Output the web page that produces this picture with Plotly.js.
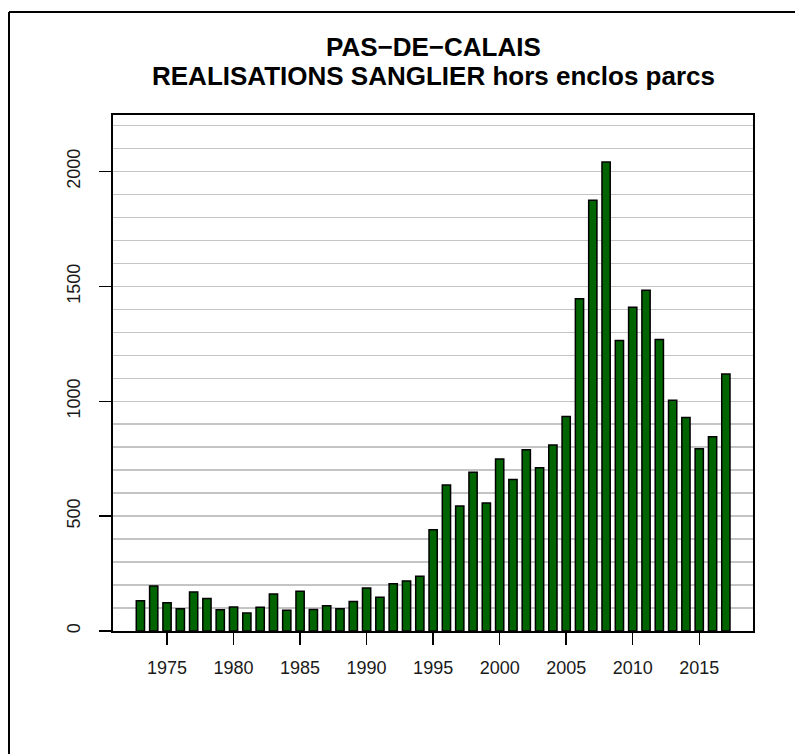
<!DOCTYPE html>
<html>
<head>
<meta charset="utf-8">
<script src="https://cdn.plot.ly/plotly-3.0.1.min.js"></script>
<style>
  html, body { margin: 0; padding: 0; background: #ffffff; }
  #chart { width: 795px; height: 754px; }
</style>
</head>
<body>
<div id="chart"></div>
<script>
// Data
const years = [1973, 1974, 1975, 1976, 1977, 1978, 1979, 1980, 1981, 1982,
               1983, 1984, 1985, 1986, 1987, 1988, 1989, 1990, 1991, 1992,
               1993, 1994, 1995, 1996, 1997, 1998, 1999, 2000, 2001, 2002,
               2003, 2004, 2005, 2006, 2007, 2008, 2009, 2010, 2011, 2012,
               2013, 2014, 2015, 2016, 2017];
const realisations = [132, 196, 123, 97, 170, 142, 93, 104, 78, 103,
                      161, 90, 173, 94, 110, 97, 128, 187, 147, 206,
                      218, 238, 441, 636, 544, 691, 557, 749, 659, 789,
                      711, 810, 934, 1446, 1875, 2041, 1265, 1409, 1483, 1269,
                      1004, 929, 793, 845, 1119];
const xTickVals = [1975, 1980, 1985, 1990, 1995, 2000, 2005, 2010, 2015];
const yTickVals = [0, 500, 1000, 1500, 2000];
const titleLines = ['PAS\u2212DE\u2212CALAIS', 'REALISATIONS SANGLIER hors enclos parcs'];

const trace = {
  type: 'bar',
  x: years,
  y: realisations,
  width: 0.62,
  marker: { color: '#006400', line: { color: '#000000', width: 1.5 } },
  hoverinfo: 'x+y'
};

const titleFont = { family: 'Liberation Sans, Arial, sans-serif', size: 26, color: '#000000', weight: 'bold' };

const layout = {
  width: 795,
  height: 754,
  margin: { l: 113, r: 42, t: 115, b: 123, pad: 0 },
  paper_bgcolor: '#ffffff',
  plot_bgcolor: '#ffffff',
  showlegend: false,
  font: { family: 'Liberation Sans, Arial, sans-serif', color: '#000000', size: 18 },
  xaxis: {
    range: [1970.94, 2019.04],
    tickmode: 'array',
    tickvals: xTickVals,
    ticktext: xTickVals.map(String),
    ticks: 'outside', ticklen: 12, tickwidth: 1.5, tickcolor: '#000000',
    ticklabelstandoff: 7,
    showgrid: false, zeroline: false,
    showline: true, linecolor: '#000000', linewidth: 2, mirror: true,
    tickfont: { size: 18, color: '#1a1a1a' },
    fixedrange: true
  },
  yaxis: {
    range: [0, 2246],
    tickmode: 'array',
    tickvals: yTickVals,
    ticktext: yTickVals.map(String),
    tickangle: -90,
    ticks: 'outside', ticklen: 12, tickwidth: 1.5, tickcolor: '#000000',
    ticklabelstandoff: 12,
    showgrid: true, gridcolor: '#c4c4c4', gridwidth: 1.5,
    minor: { dtick: 100, tick0: 0, showgrid: true, gridcolor: '#c4c4c4', gridwidth: 1.5, ticks: '' },
    zeroline: false,
    showline: true, linecolor: '#000000', linewidth: 2, mirror: true,
    tickfont: { size: 18, color: '#1a1a1a' },
    fixedrange: true
  },
  annotations: [
    { text: titleLines[0], xref: 'paper', yref: 'paper', x: 0.5, y: (631 - 47) / 516,
      xanchor: 'center', yanchor: 'middle', showarrow: false, font: titleFont },
    { text: titleLines[1], xref: 'paper', yref: 'paper', x: 0.5, y: (631 - 76) / 516,
      xanchor: 'center', yanchor: 'middle', showarrow: false, font: titleFont }
  ],
  shapes: [
    // outer frame (left and top edges visible in the reference)
    { type: 'line', xref: 'paper', yref: 'paper',
      x0: (9 - 113) / 640, x1: (9 - 113) / 640, y0: (631 - 12) / 516, y1: (631 - 760) / 516,
      line: { color: '#000000', width: 2 } },
    { type: 'line', xref: 'paper', yref: 'paper',
      x0: (9 - 113) / 640, x1: (800 - 113) / 640, y0: (631 - 12) / 516, y1: (631 - 12) / 516,
      line: { color: '#000000', width: 2 } }
  ]
};

Plotly.newPlot('chart', [trace], layout, { displayModeBar: false, staticPlot: true });
</script>
</body>
</html>
